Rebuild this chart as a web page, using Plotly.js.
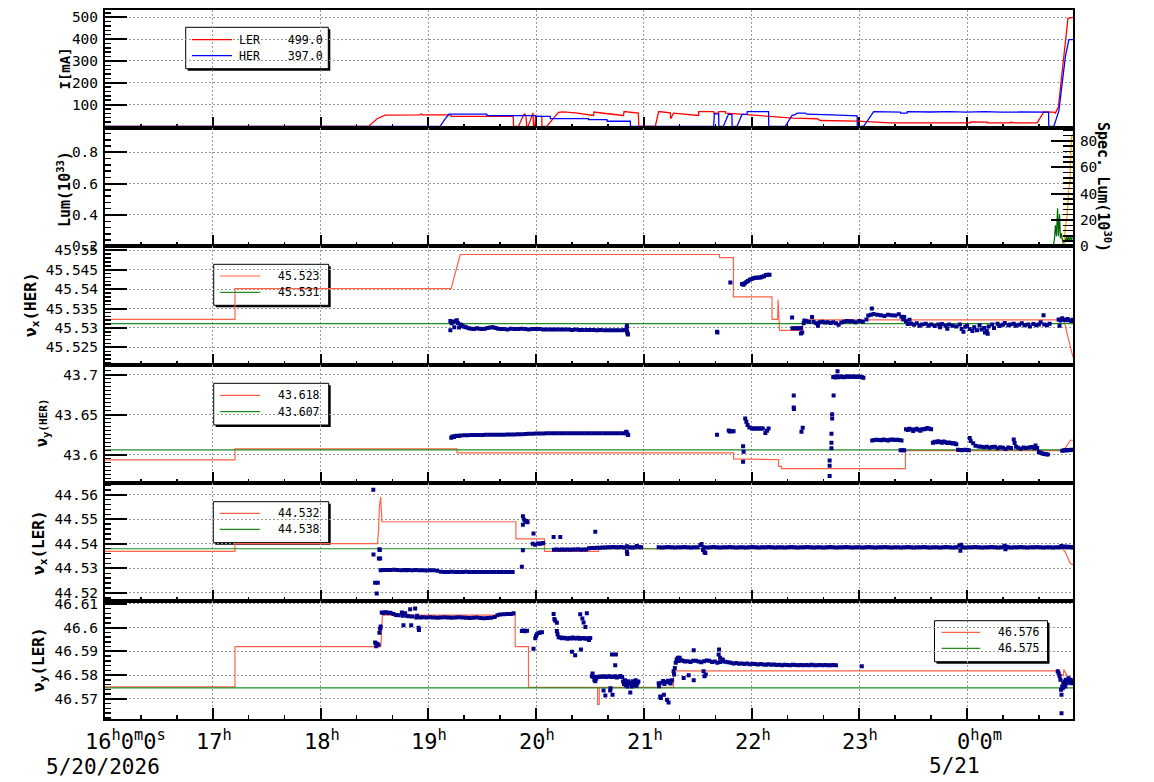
<!DOCTYPE html>
<html><head><meta charset="utf-8">
<script src="https://cdn.plot.ly/plotly-3.0.1.min.js"></script>
<style>body{margin:0;background:#fff}#chart{width:1154px;height:782px}</style>
</head><body><div id="chart"></div>
<script>
// ---- time base: minutes since 2026-05-20 16:00 ----
const BASE = Date.UTC(2026,4,20,16,0,0);
function T(m){ return new Date(BASE + m*60000).toISOString().slice(0,19).replace('T',' '); }
const xRange = [0, 539];
const xTickMin = [0,60,120,180,240,300,360,420,480];
const xTickText = ['16<sup>h</sup>0<sup>m</sup>0<sup>s</sup>','17<sup>h</sup>','18<sup>h</sup>','19<sup>h</sup>','20<sup>h</sup>','21<sup>h</sup>','22<sup>h</sup>','23<sup>h</sup>','0<sup>h</sup>0<sup>m</sup>'];
const dateLabels = ['5/20/2026','5/21'];

// ---- Panel 1: beam currents [mA] ----
const curLegend = ['LER    499.0','HER    397.0'];
const curLER = [[0,0],[146.7,0],[151.5,35],[156,52],[175.5,53],[176,57],[177,53],[192.2,53],[192.8,46],[227.3,46],[227.5,0],[230.2,0],[233,52],[233.7,57],[234.3,50],[234.9,0],[235.6,0],[237.7,46],[238.3,62],[238.6,0],[239.2,0],[239.8,46],[243.2,46],[243.3,0],[246,0],[250,40],[252.5,64],[255,67],[262,62],[272,50],[272.3,66],[280,58],[288.7,50],[289,68],[297,61],[297.2,0],[306.4,0],[308.3,68],[314.8,62],[315,35],[316.6,61],[330.5,50],[330.6,68],[338.9,68],[339,61],[341.7,61],[341.8,68],[345.4,68],[345.5,61],[353.8,56],[370.6,46],[383.4,38],[396.5,35],[398.3,27],[418.8,24],[437.5,16],[481.9,16],[482,21],[491.2,20],[491.3,16],[504.2,16],[504.3,19],[507,16],[519.1,16],[522.7,66],[528.3,65],[529.2,61],[530.9,90],[532.3,200],[533.7,310],[534.8,400],[535.8,470],[536.2,495],[539,499]];
const curHER = [[0,0],[186.6,0],[189,30],[191.5,56],[212.6,56],[212.7,49],[239.6,49],[239.7,46],[247.9,46],[248,35.5],[269.2,35.5],[269.3,31],[279.5,31],[279.6,23.6],[292.5,23.6],[292.6,0],[338.9,0],[339.3,57],[341.7,57],[341.8,0],[344.3,0],[347.1,55],[349.1,55],[349.2,0],[351.9,0],[354.7,55],[357.5,55],[357.6,68],[369.5,68],[369.6,0],[378.8,0],[382.6,51],[384.4,54],[385.4,61],[389.9,61],[390.9,56],[405,53],[418.8,48],[418.9,0],[422.4,0],[428,68],[435,65],[442.9,65],[443,61],[446.6,61],[446.7,68],[459.6,66],[470,68],[479.1,65],[490,68],[498.6,65],[510,66],[522.7,65],[524.6,68],[525.4,65],[525.5,0],[528.3,0],[531.1,70],[533,188],[534.8,322],[536.7,397],[539,397]];

// ---- Panel 2: luminosity ----
const lum = [[379.5,0.15],[380.5,0.22],[381,0.15],[528.1,0.206],[528.7,0.251],[529.2,0.334],[529.8,0.264],[530.4,0.443],[530.9,0.264],[531.5,0.404],[532,0.251],[532.6,0.283],[533.1,0.238],[533.7,0.213],[534.3,0.251],[534.8,0.226],[535.4,0.264],[535.9,0.238],[536.5,0.258],[537,0.232],[537.6,0.264],[538.2,0.238],[538.7,0.258]];
const specLum = [[533.5,0],[534.3,6],[534.6,12],[535.8,25],[536.7,45],[537.3,48],[537.6,65],[538.2,83],[538.7,85]];

// ---- Panel 3: nu_x(HER) ----
const nxhLegend = ['45.523','45.531'];
const nxhSet = [[0,45.5322],[72.4,45.5322],[72.4,45.5401],[192.8,45.5401],[193.5,45.5415],[194.3,45.543],[195,45.5445],[195.8,45.546],[196.6,45.5472],[197.3,45.548],[197.8,45.5489],[342.2,45.5489],[342.2,45.5481],[349.9,45.5481],[349.9,45.538],[371.4,45.538],[371.4,45.5322],[374.5,45.5322],[374.8,45.5373],[375.6,45.5294],[388.5,45.5294],[388.6,45.5321],[533.2,45.5321],[534.5,45.531],[536,45.528],[537.5,45.525],[539,45.5225]];
const nxhRef = [[0,45.5311],[539,45.5311]];
const nxhMeas = [[192.3,45.5318],[192.3,45.5294],[193,45.5312],[193.8,45.5316],[194.5,45.5302],[195.3,45.5318],[195.9,45.532],[196.5,45.5313],[197.2,45.5301],[198,45.5309],[199,45.5306],[200,45.5303],[201,45.5302],[202.5,45.5299],[204,45.5298],[205.5,45.5297],[207,45.5299],[208.5,45.5298],[210,45.5297],[211.5,45.5298],[213,45.53],[214.5,45.5301],[216,45.5302],[217.5,45.53],[219,45.5298],[220.5,45.5297],[222,45.5297],[224,45.5296],[226,45.5298],[228,45.5297],[230,45.5297],[232,45.5298],[234,45.5297],[236,45.5296],[238,45.5297],[240,45.5297],[242,45.5297],[244,45.5296],[246,45.5296],[248,45.5296],[250,45.5296],[252,45.5296],[254,45.5296],[256,45.5296],[258,45.5296],[260,45.5295],[262,45.5296],[264,45.5295],[266,45.5295],[268,45.5295],[270,45.5295],[272,45.5295],[274,45.5294],[276,45.5295],[278,45.5294],[280,45.5294],[282,45.5294],[284,45.5294],[286,45.5294],[288,45.5294],[289.5,45.5295],[290.5,45.53],[290.6,45.5306],[290.7,45.529],[291,45.5286],[291.2,45.5283],
[340.8,45.529],[341,45.5288],[348.2,45.5417],[354.7,45.5413],[355.5,45.5411],[356.3,45.5415],[357.2,45.5418],[358,45.5421],[359,45.5424],[360,45.5426],[361,45.5428],[362,45.5429],[363,45.5429],[364,45.543],[365,45.543],[366,45.5432],[367,45.5433],[368,45.5436],[369,45.5437],[370,45.5437],
[382.6,45.5327],[382.8,45.5299],[384,45.5299],[385.3,45.5299],[386.5,45.5299],[387.5,45.53],[387.5,45.5286],[388.2,45.5288],[389,45.5312],[389.5,45.5319],[390.5,45.5318],[392,45.5316],[393.7,45.5328],[394.5,45.5316],[396,45.5312],[397,45.5306],[398,45.5315],[399.5,45.5316],[401,45.5314],[402.5,45.5315],[404,45.5313],[405.5,45.5315],[407,45.5312],[408.5,45.5308],[410,45.5314],[411.5,45.5316],[413,45.5318],[414.5,45.5317],[416,45.5317],[418,45.5315],[420,45.5318],[422,45.5316],[424,45.5322],[425,45.5332],[426.5,45.5334],[427,45.535],[428,45.5336],[430,45.5334],[432,45.5333],[434,45.5331],[436,45.5334],[438,45.5333],[440,45.5332],[442,45.5335],[443.5,45.5329],[444.5,45.5322],[445,45.5328],[446,45.5317],[447,45.531],[448,45.5321],[449,45.5311],[450.5,45.5308],[452,45.5312],[453.5,45.5306],[455,45.5309],[457,45.5311],[458.5,45.5306],[460,45.5309],[462,45.5305],[464,45.5309],[465,45.5302],[466,45.531],[468,45.5306],[469,45.5298],[470,45.5309],[472,45.5306],[474,45.5304],[476,45.5309],[477,45.5297],[478,45.529],[479,45.5303],[480,45.5306],[481.5,45.5297],[483,45.5292],[484,45.5302],[485.5,45.5294],[487,45.5307],[488,45.5296],[489.5,45.53],[490,45.5288],[491,45.5293],[491.5,45.5285],[492,45.5304],[494,45.5309],[495,45.53],[497,45.5311],[498,45.5305],[500,45.5308],[501,45.5313],[503,45.5307],[504,45.5309],[506,45.5311],[507,45.5306],[509,45.5308],[510.5,45.5312],[512,45.5307],[514,45.5309],[515,45.5304],[517,45.531],[518.5,45.5307],[520,45.5309],[521,45.5315],[522.6,45.5333],[523,45.5309],[524.5,45.5307],[526,45.5311],[531,45.5322],[531.5,45.5306],[532,45.5319],[533,45.5325],[534,45.5321],[535,45.532],[536,45.5323],[537,45.532],[538,45.5318],[539,45.5321]];

// ---- Panel 4: nu_y(HER) ----
const nyhLegend = ['43.618','43.607'];
const nyhSet = [[0,43.5934],[72.4,43.5934],[72.4,43.6073],[196,43.6073],[196,43.6023],[350,43.6023],[350,43.5947],[371.4,43.5947],[371.4,43.5938],[375.1,43.5938],[375.1,43.5854],[376.6,43.5854],[376.6,43.5825],[445.7,43.5825],[445.7,43.6051],[533.5,43.6051],[535,43.609],[536.5,43.615],[537.5,43.618],[539,43.618]];
const nyhRef = [[0,43.606],[539,43.606]];
const nyhMeas = [[192.8,43.621],[193.5,43.6228],[194.3,43.622],[195,43.6233],[196,43.6236],[197,43.6232],[198,43.6238],[200,43.6241],[202,43.6243],[204,43.6244],[206,43.6245],[208,43.6246],[210,43.6246],[212,43.6247],[214,43.6248],[216,43.6248],[218,43.6249],[220,43.625],[222,43.625],[224,43.6251],[226,43.6252],[228,43.6253],[230,43.6254],[232,43.6256],[234,43.6258],[236,43.626],[238,43.6262],[240,43.6263],[242,43.6264],[244,43.6265],[246,43.6266],[248,43.6266],[250,43.6266],[252,43.6266],[254,43.6266],[256,43.6266],[258,43.6266],[260,43.6266],[262,43.6266],[264,43.6266],[266,43.6266],[268,43.6266],[270,43.6266],[272,43.6266],[274,43.6266],[276,43.6266],[278,43.6266],[280,43.6266],[282,43.6266],[284,43.6266],[286,43.6266],[288,43.6266],[290,43.6266],[290.2,43.6287],[290.5,43.6278],[291,43.6253],[291.3,43.6244],
[340.8,43.625],[347.3,43.6302],[347.9,43.6289],[349.1,43.6293],[350,43.6293],[355.3,43.6106],[355.6,43.6035],[355.3,43.591],[356.5,43.6452],[357.1,43.6411],[357.8,43.637],[358.8,43.634],[360.3,43.6328],[361.3,43.6328],[362.3,43.6328],[363.3,43.6328],[364.3,43.6328],[365.3,43.6328],[366.3,43.6328],[367.7,43.627],[368.6,43.63],[369.5,43.6328],
[383.5,43.6738],[383.5,43.659],[383.6,43.657],[387.8,43.6287],[388.5,43.6337],
[407.9,43.7043],[405.7,43.6738],[404.9,43.6505],[404.9,43.6452],[404.5,43.6262],[404.5,43.615],[404.5,43.608],[403.5,43.5926],[403.5,43.586],[403.5,43.5733],
[405.5,43.697],[406.5,43.6965],[407.5,43.698],[408.5,43.6968],[409.5,43.6975],[410.5,43.6972],[411.5,43.6966],[412.5,43.6973],[413.5,43.6978],[414.5,43.697],[415.5,43.6975],[416.5,43.6974],[417.5,43.6977],[418.5,43.697],[419.5,43.6975],[420.5,43.6972],[421.5,43.6966],[422.3,43.6962],
[427.2,43.6178],[428.5,43.6182],[429.7,43.6186],[431,43.6184],[432.2,43.6181],[433.5,43.619],[434.7,43.6183],[436,43.6178],[437.2,43.6185],[438.5,43.6188],[439.7,43.6182],[441,43.6186],[442.2,43.6184],[443.5,43.6177],[443,43.6055],[444,43.6055],[445,43.6055],
[446,43.6318],[447,43.6307],[448,43.6322],[449,43.6313],[450,43.6296],[451,43.6315],[452,43.6323],[453,43.6311],[454,43.6298],[455,43.6318],[456,43.6316],[457,43.6322],[458,43.6332],[459,43.6325],[460,43.6317],
[461,43.6148],[462,43.6162],[463,43.6155],[464,43.6168],[465,43.6158],[466,43.615],[467,43.6163],[468,43.6155],[469,43.6147],[470,43.6152],[471,43.6144],[472,43.6138],[473,43.6142],[474,43.613],
[475,43.6062],[476,43.6058],[477,43.6055],[478,43.6058],[479,43.6062],[480,43.6058],[481,43.6055],
[481.5,43.6209],[482,43.617],[483.4,43.6143],[484.7,43.611],[486.5,43.6102],[488,43.6098],[489.5,43.6092],[491,43.6098],[492.5,43.6086],[494,43.6095],[495.5,43.6098],[497,43.6079],[498.5,43.6092],[500,43.6085],[501.5,43.6072],[503,43.6088],[504.5,43.6082],
[506,43.6188],[506.5,43.6146],[507.3,43.6098],[508.5,43.6085],[510,43.6075],[511.5,43.6088],[513,43.6082],[514.5,43.609],[516,43.6095],[517.5,43.608],[518.1,43.6115],[519,43.6084],
[520,43.6033],[521,43.6025],[522,43.6015],[523,43.6008],[524,43.6004],[525,43.6002],
[533,43.6048],[534,43.6055],[535,43.6052],[536,43.6058],[537,43.6055],[538,43.606],[539,43.6058]];

// ---- Panel 5: nu_x(LER) ----
const nxlLegend = ['44.532','44.538'];
const nxlSet = [[0,44.5369],[72.4,44.5369],[72.4,44.5401],[151.7,44.5401],[152.3,44.5449],[152.8,44.555],[153.5,44.5591],[154.2,44.549],[228.8,44.549],[228.8,44.542],[244.7,44.542],[244.7,44.5369],[274.8,44.5369],[274.8,44.538],[533,44.538],[534.5,44.537],[536,44.5345],[537.5,44.532],[539,44.5315]];
const nxlRef = [[0,44.538],[539,44.538]];
const nxlMeas = [[149.4,44.562],[149.5,44.5357],[150.4,44.5242],[151.3,44.5198],[151.9,44.5242],[152.5,44.534],[152.8,44.5378],[153.2,44.534],[153,44.5375],
[153.5,44.5293],[155,44.5294],[157,44.5294],[159,44.5294],[161,44.5295],[163,44.5294],[165,44.5293],[167,44.5294],[168,44.5292],[169,44.5294],[171,44.5293],[173,44.5294],[175,44.5292],[177,44.5293],[179,44.5291],[181,44.5292],[183,44.5292],[185,44.529],[187,44.5286],[189,44.5285],[191,44.5285],[193,44.5286],[195,44.5285],[197,44.5285],[199,44.5285],[201,44.5286],[203,44.5285],[205,44.5285],[207,44.5285],[209,44.5285],[211,44.5285],[213,44.5285],[215,44.5285],[217,44.5285],[219,44.5285],[221,44.5285],[223,44.5285],[225,44.5285],[227,44.5285],
[232.1,44.5307],[232.7,44.5374],[232.7,44.5512],[232.7,44.5478],[233.4,44.5498],[234.1,44.549],[234.8,44.5493],[235.3,44.5488],[238.2,44.54],[238.6,44.5442],[239.5,44.5396],[241,44.5401],[242,44.54],[243,44.5401],[244,44.5403],[249.8,44.5428],[253.5,44.5428],[250,44.5376],[251.5,44.5377],[253,44.5376],[254.5,44.5377],[256,44.5376],[257.5,44.5377],[259,44.5376],[260.5,44.5377],[262,44.5377],[263.5,44.5378],[265,44.5376],[266.5,44.5377],[268,44.5377],[269.5,44.5382],[271,44.5383],[272.5,44.5383],[273,44.5449],[274,44.5384],[275.5,44.5384],[277,44.5385],[278.5,44.5385],[280,44.5386],[281.5,44.5386],[283,44.5387],[284.5,44.5386],[286,44.5386],[287.5,44.5387],[289,44.5385],[290.6,44.539],[290.6,44.5369],[290.8,44.5359],[292,44.5386],[293.5,44.5385],[295,44.5386],[296.2,44.5391],[297.5,44.5387],[298.5,44.5386],
[308.3,44.5386],[310.1,44.5385],[311.9,44.5386],[313.7,44.5387],[315.5,44.5386],[317.3,44.5385],[319.1,44.5386],[320.9,44.5386],[322.7,44.5387],[324.5,44.5386],[326.3,44.5385],[328.1,44.5386],[329.9,44.5386],[331.5,44.5394],[332.2,44.5399],[333,44.5375],[333.8,44.5366],[334.3,44.5363],[333.5,44.5386],[335.3,44.5385],[337.1,44.5386],[338.9,44.5387],[340.7,44.5386],[342.5,44.5385],[344.3,44.5386],[346.1,44.5386],[347.9,44.5387],[349.7,44.5386],[351.5,44.5385],[353.3,44.5386],[355.1,44.5386],[356.9,44.5385],[358.7,44.5386],[360.5,44.5387],[362.3,44.5386],[364.1,44.5385],[365.9,44.5386],[367.7,44.5386],[369.5,44.5387],[371.3,44.5386],[373.1,44.5385],[374.9,44.5386],[376.7,44.5386],[378.5,44.5385],[380.3,44.5386],[382.1,44.5387],[383.9,44.5386],[385.7,44.5385],[387.5,44.5386],[389.3,44.5386],[391.1,44.5387],[392.9,44.5386],[394.7,44.5385],[396.5,44.5386],[398.3,44.5386],[400.1,44.5385],[401.9,44.5386],[403.7,44.5387],[405.5,44.5386],[407.3,44.5385],[409.1,44.5386],[410.9,44.5386],[412.7,44.5387],[414.5,44.5386],[416.3,44.5385],[418.1,44.5386],[419.9,44.5386],[421.7,44.5385],[423.5,44.5386],[425.3,44.5387],[427.1,44.5386],[428.9,44.5385],[430.7,44.5386],[432.5,44.5386],[434.3,44.5387],[436.1,44.5386],[437.9,44.5385],[439.7,44.5386],[441.5,44.5386],[443.3,44.5385],[445.1,44.5386],[446.9,44.5387],[448.7,44.5386],[450.5,44.5385],[452.3,44.5386],[454.1,44.5386],[455.9,44.5387],[457.7,44.5386],[459.5,44.5385],[461.3,44.5386],[463.1,44.5386],[464.9,44.5385],[466.7,44.5386],[468.5,44.5387],[470.3,44.5386],[472.1,44.5385],[473.9,44.5386],[475.7,44.5392],[476.3,44.5372],[476.8,44.5396],[477.5,44.5386],[479.3,44.5385],[481.1,44.5386],[482.9,44.5386],[484.7,44.5387],[486.5,44.5386],[488.3,44.5385],[490.1,44.5386],[491.9,44.5386],[493.7,44.5387],[495.5,44.5386],[497.3,44.5385],[499.1,44.5386],[500.9,44.5392],[501.4,44.5378],[502,44.5388],[502.7,44.5386],[504.5,44.5385],[506.3,44.5386],[508.1,44.5386],[509.9,44.5387],[511.7,44.5386],[513.5,44.5385],[515.3,44.5386],[517.1,44.5386],[518.9,44.5387],[520.7,44.5386],[522.5,44.5385],[524.3,44.5386],[526.1,44.5386],[527.9,44.5385],[529.7,44.5386],[531.5,44.5386],[532.5,44.5391],[533.5,44.5387],[534.5,44.5389],[535.5,44.5386],[536.5,44.5388],[537.5,44.5386],[538.5,44.5387],[539,44.5385]];

// ---- Panel 6: nu_y(LER) ----
const nylLegend = ['46.576','46.575'];
const nylSet = [[0,46.575],[72.4,46.575],[72.4,46.592],[153.6,46.592],[154.5,46.6053],[228.4,46.6053],[228.4,46.592],[235.8,46.592],[235.8,46.5748],[274.3,46.5748],[274.3,46.5677],[275.2,46.5677],[275.2,46.5748],[316.6,46.5748],[316.6,46.5818],[531.2,46.5818],[532,46.5805],[533.1,46.5797],[533.6,46.5797],[533.9,46.5823],[535.3,46.5803],[537.1,46.5789],[537.9,46.5768],[539,46.5768]];
const nylRef = [[0,46.5746],[539,46.5746]];
const nylMeas = [[150.4,46.5937],[151,46.5922],[151.5,46.5932],[152.3,46.5928],[152.8,46.5979],[153.2,46.5995],[153.5,46.6005],[154.1,46.6064],[155,46.6062],[156,46.6065],[157,46.6064],[158,46.6062],[159,46.6063],[160.6,46.6057],[162,46.6053],[163.5,46.6052],[165.3,46.6064],[165.8,46.605],[166.2,46.601],[167.1,46.6061],[168,46.605],[169,46.6048],[169.9,46.6078],[170.5,46.601],[171,46.6047],[172.7,46.6081],[173.3,46.6043],[173.8,46.605],[174.6,46.6],[174.8,46.599],[175.5,46.6043],[177,46.6044],[179,46.6043],[181,46.6044],[183,46.6043],[185,46.6042],[187,46.6043],[189,46.6044],[191,46.6043],[193,46.6042],[195,46.6043],[197,46.6044],[199,46.6043],[201,46.6042],[203,46.6041],[205,46.6042],[207,46.6043],[209,46.6041],[211,46.604],[213,46.6041],[215,46.6042],[217,46.6045],[218.5,46.6052],[220,46.6055],[222,46.6056],[224,46.6057],[226,46.6058],[227.5,46.6061],
[232.1,46.5986],[233,46.5988],[234,46.5985],[235,46.5987],[238.6,46.5911],[239.6,46.5955],[240,46.5965],[240.5,46.5972],[241.4,46.5977],[242.3,46.598],[243.3,46.5981],
[249.8,46.6057],[250.2,46.6036],[250.7,46.6029],[251.6,46.6021],[251.6,46.5986],[252,46.5972],[252.6,46.596],[253.5,46.5958],[254.5,46.5955],[255.5,46.5957],[256.5,46.5955],[257.5,46.5953],[258.5,46.5956],[259.5,46.5954],[260.5,46.5958],[261.5,46.5955],[262.5,46.5954],[263.5,46.5957],[264.5,46.5953],[265.5,46.5955],[266.5,46.5956],[267.5,46.5953],[268.5,46.5955],[269.5,46.5948],[270.2,46.5956],
[260,46.5898],[261.8,46.5884],[265,46.5908],[264.6,46.6056],[265.8,46.6039],[266.5,46.6022],[267.5,46.6003],[268.3,46.6061],
[271.1,46.5795],[271.5,46.5807],[272,46.5792],[272.5,46.5779],[273,46.5774],[273.5,46.5785],[274,46.5793],[275,46.5792],[276,46.5794],[277,46.5793],[278,46.5795],[279,46.5792],[280,46.5794],[281,46.5795],[282,46.5792],[283,46.5793],[284,46.5795],[285,46.579],[286,46.5793],[287,46.5796],[288,46.5792],
[277.6,46.5735],[278.6,46.5714],[281.3,46.5735],[281.5,46.5745],[282.3,46.5887],[284.1,46.5842],[284.5,46.5887],[282.6,46.5717],
[288.5,46.5773],[289,46.5762],[289.5,46.5778],[290,46.5757],[290.5,46.5767],[291,46.5752],[291.5,46.5774],[292,46.5763],[292.5,46.5727],[293,46.5768],[293.5,46.5752],[294,46.5774],[294.5,46.5757],[295,46.5764],[295.5,46.5778],[296,46.5755],[296.5,46.5767],[297,46.5773],
[308.3,46.5766],[308.5,46.5753],[309.2,46.571],[309.5,46.5703],[310,46.5768],[310.8,46.5775],[311.5,46.5763],[311.2,46.5717],[312.2,46.5771],[312.9,46.5696],[313.8,46.5684],[313.5,46.5776],[314.3,46.5768],[315,46.5765],[315.7,46.5778],
[316.6,46.5816],[316.9,46.5802],[317.3,46.583],[317.8,46.5852],[318.3,46.5866],[319,46.5873],[319.4,46.5859],[320,46.5873],[321,46.5863],[322.2,46.5859],
[323,46.5857],[324.5,46.5858],[326,46.5855],[327.5,46.586],[329,46.5861],[330.5,46.5857],[332,46.5854],[333.5,46.5858],[335,46.5862],[336.5,46.586],[338,46.5855],[339.5,46.5857],[341,46.5852],[342.5,46.5855],[344,46.5858],[345.5,46.5856],[347,46.5854],[348.5,46.5852],[350,46.5849],[351.5,46.5851],[353,46.5848],[354.5,46.5849],[356,46.5847],[357.5,46.5849],[359,46.5846],[360.5,46.5848],[362,46.5847],[363.5,46.5845],[365,46.5847],[366.5,46.5845],[368,46.5844],[369.5,46.5846],[371,46.5844],[372.5,46.5845],[374,46.5843],[375.5,46.5844],[377,46.5842],[378.5,46.5844],[380,46.5843],[381.5,46.5842],[383,46.5844],[384.5,46.5843],[386,46.5842],[387.5,46.5843],[389,46.5841],[390.5,46.5843],[392,46.5842],[393.5,46.5844],[395,46.5842],[396.5,46.5841],[398,46.5843],[399.5,46.5842],[401,46.5843],[402.5,46.5841],[404,46.5842],[405.5,46.5843],[407,46.5842],
[322.2,46.5788],[325,46.5799],[327.8,46.5778],[327.8,46.5905],[333.3,46.5816],[333.8,46.5795],[334.5,46.5802],[341.7,46.5887],[341.9,46.5908],[342.5,46.5873],[344,46.5866],
[421.4,46.5837],
[530.5,46.5816],[531,46.5808],[531.5,46.5795],[532,46.578],[532.3,46.5738],[532.6,46.5717],[532.6,46.5639],[533,46.5752],[533.3,46.5745],[533.6,46.5766],[534,46.5759],[534.3,46.5773],[534.7,46.5752],[535,46.578],[535.5,46.5766],[536,46.5773],[536.5,46.5787],[537,46.5773],[537.5,46.578],[538,46.5766],[538.5,46.5777],[539,46.5773]];

// ---- y tick labels ----
const yTicks = [
  {vals:[100,200,300,400,500], text:['100','200','300','400','500']},
  {vals:[0.2,0.4,0.6,0.8], text:['0.2','0.4','0.6','0.8']},
  {vals:[45.525,45.53,45.535,45.54,45.545,45.55], text:['45.525','45.53','45.535','45.54','45.545','45.55']},
  {vals:[43.6,43.65,43.7], text:['43.6','43.65','43.7']},
  {vals:[44.52,44.53,44.54,44.55,44.56], text:['44.52','44.53','44.54','44.55','44.56']},
  {vals:[46.57,46.58,46.59,46.6,46.61], text:['46.57','46.58','46.59','46.6','46.61']}
];
const specTicks = {vals:[0,20,40,60,80], text:['0','20','40','60','80']};

// ================= build =================
const xs = a => a.map(p => T(p[0]));
const ys = a => a.map(p => p[1]);
const TOMATO = '#ff6347', GREEN = '#228b22', NAVY = '#00008b';
const traces = [];
function line(a, xa, ya, color, w){ traces.push({x:xs(a), y:ys(a), xaxis:xa, yaxis:ya, mode:'lines', line:{color:color, width:w||1.2}, hoverinfo:'skip'}); }
function pts(a, xa, ya){ traces.push({x:xs(a), y:ys(a), xaxis:xa, yaxis:ya, mode:'markers', marker:{symbol:'square', size:4, color:NAVY, line:{width:0}}, hoverinfo:'skip'}); }

line(curLER,'x','y','#ff0000',1.3);
line(curHER,'x','y','#0000ff',1.3);
line(lum,'x2','y2','#006400',1.2);
line(specLum,'x2','y7','#ffa500',1.3);
line(nxhSet,'x3','y3',TOMATO); line(nxhRef,'x3','y3',GREEN); pts(nxhMeas,'x3','y3');
line(nyhSet,'x4','y4',TOMATO); line(nyhRef,'x4','y4',GREEN); pts(nyhMeas,'x4','y4');
line(nxlSet,'x5','y5',TOMATO); line(nxlRef,'x5','y5',GREEN); pts(nxlMeas,'x5','y5');
line(nylSet,'x6','y6',TOMATO); line(nylRef,'x6','y6',GREEN); pts(nylMeas,'x6','y6');

const MONO = 'DejaVu Sans Mono';
const ranges = [[-8,533],[0.2,0.954],[45.5206,45.551],[43.565,43.7126],[44.5168,44.5649],[46.5615,46.6113]];
const minors = [{tick0:0,dtick:20},{tick0:0.2,dtick:0.04},{tick0:45.52,dtick:0.001},{tick0:43.55,dtick:0.005},{tick0:44.51,dtick:0.002},{tick0:46.56,dtick:0.002}];
const layout = {
  width:1154, height:782, margin:{l:105,r:81,t:10,b:63},
  paper_bgcolor:'#fff', plot_bgcolor:'#fff', showlegend:false,
  font:{family:MONO, size:14, color:'#000'},
  shapes:[], annotations:[]
};
for(let i=0;i<6;i++){
  const n = i===0?'':String(i+1);
  const top = 1 - i/6, bot = 1 - (i+1)/6;
  layout['xaxis'+n] = {
    type:'date', range:[T(xRange[0]),T(xRange[1])], anchor:'y'+n, matches: i===0?undefined:'x',
    showticklabels:false, tick0:T(0), dtick:3600000,
    ticks:'inside', ticklen:11, tickwidth:2, tickcolor:'#000',
    minor:{ticks:'inside', ticklen:4, tickwidth:1.5, tickcolor:'#000', dtick:1200000, tick0:T(0), showgrid:false},
    showgrid:true, gridcolor:'#9a9a9a', gridwidth:1, griddash:'2px,2px',
    showline:true, mirror:true, linecolor:'#000', linewidth:2, zeroline:false,
    layer: i===0?'below traces':'above traces'
  };
  layout['yaxis'+n] = {
    domain:[bot, top], range:ranges[i], anchor:'x'+n,
    tickmode:'array', tickvals:yTicks[i].vals, ticktext:yTicks[i].text,
    ticks:'inside', ticklen:22, tickwidth:2, tickcolor:'#000', ticklabelstandoff:2,
    minor:Object.assign({ticks:'inside', ticklen:6, tickwidth:1.5, tickcolor:'#000', showgrid:false}, minors[i]),
    tickfont:{family:MONO, size:14.5, color:'#000'},
    showgrid:true, gridcolor:'#9a9a9a', gridwidth:1, griddash:'2px,2px',
    showline:true, mirror:true, linecolor:'#000', linewidth:2, zeroline:false,
    layer: i===0?'below traces':'above traces'
  };
}
layout.yaxis7 = {
  overlaying:'y2', side:'right', anchor:'x2', range:[0,89.7],
  tickmode:'array', tickvals:specTicks.vals, ticktext:specTicks.text,
  ticks:'inside', ticklen:22, tickwidth:2, tickcolor:'#000', ticklabelstandoff:2,
  minor:{ticks:'inside', ticklen:10, tickwidth:1.5, tickcolor:'#000', tick0:0, dtick:4, showgrid:false},
  tickfont:{family:MONO, size:14.5, color:'#000'},
  showgrid:false, showline:true, linecolor:'#000', linewidth:2, zeroline:false
};

// pixel -> paper helpers (plot area: x 105..1073, y 10..719)
const P = px => (px-105)/968;
const Q = py => (719-py)/709;

function legendBox(x0,y0,x1,y1){
  layout.shapes.push({type:'rect', xref:'paper', yref:'paper', x0:P(x0+2), x1:P(x1+2), y0:Q(y1+2), y1:Q(y0+2), fillcolor:'#000', line:{width:0}, layer:'between'});
  layout.shapes.push({type:'rect', xref:'paper', yref:'paper', x0:P(x0), x1:P(x1), y0:Q(y1), y1:Q(y0), fillcolor:'#fff', line:{color:'#000', width:1}, layer:'between'});
}
function legendLine(x0,x1,y,color,w){
  layout.shapes.push({type:'line', xref:'paper', yref:'paper', x0:P(x0), x1:P(x1), y0:Q(y), y1:Q(y), line:{color:color, width:w||1.2}, layer:'above'});
}
function text(t, px, py, opt){
  layout.annotations.push(Object.assign({text:t, xref:'paper', yref:'paper', x:P(px), y:Q(py), showarrow:false, xanchor:'center', yanchor:'middle', font:{family:MONO, size:12, color:'#000'}}, opt||{}));
}

// Panel 1 legend
legendBox(185.7,27.3,328.3,68.7);
legendLine(192,232,39.7,'#ff0000',1.3); legendLine(192,232,55.7,'#0000ff',1.3);
text(curLegend[0],237,39.7,{xanchor:'left', font:{family:MONO,size:11.6,color:'#000'}});
text(curLegend[1],237,55.7,{xanchor:'left', font:{family:MONO,size:11.6,color:'#000'}});
// tune legends
const tuneLeg = [[nxhLegend,213.7,264.3,328.7,305.3,276,292.3],[nyhLegend,213.7,383.3,328.7,425,395.3,411.7],[nxlLegend,213.3,501.7,328.7,542.7,513.3,529.3]];
tuneLeg.forEach(g=>{
  legendBox(g[1],g[2],g[3],g[4]);
  legendLine(g[1]+6.5,g[1]+46.5,g[5],TOMATO); legendLine(g[1]+6.5,g[1]+46.5,g[6],GREEN);
  text(g[0][0],321.5,g[5],{xanchor:'right', font:{family:MONO,size:11.5,color:'#000'}});
  text(g[0][1],321.5,g[6],{xanchor:'right', font:{family:MONO,size:11.5,color:'#000'}});
});
legendBox(934.5,620.7,1047.5,661.7);
legendLine(941.7,980.2,632.3,TOMATO); legendLine(941.7,980.2,648.3,GREEN);
text(nylLegend[0],1041.8,632.3,{xanchor:'right', font:{family:MONO,size:11.5,color:'#000'}});
text(nylLegend[1],1041.8,648.3,{xanchor:'right', font:{family:MONO,size:11.5,color:'#000'}});

// axis titles
const B = s => ({family:MONO, size:s, color:'#000', weight:'bold'});
text('<b>I[mA]</b>',64.5,69,{textangle:-90, font:B(14)});
text('<b>Lum(10<sup>33</sup>)</b>',64,189,{textangle:-90, font:B(15)});
text('<b>Spec. Lum(10<sup>30</sup>)</b>',1104,187,{textangle:90, font:B(15)});
text('<b>ν<sub>x</sub>(HER)</b>',31,305,{textangle:-90, font:B(16)});
text('<b>ν<sub>y</sub><span style="font-size:11px">(HER)</span></b>',42,423,{textangle:-90, font:B(15)});
text('<b>ν<sub>x</sub>(LER)</b>',39,543,{textangle:-90, font:B(16)});
text('<b>ν<sub>y</sub>(LER)</b>',39,660,{textangle:-90, font:B(16)});

// x tick labels
xTickMin.forEach((m,i)=>{
  layout.annotations.push({text:xTickText[i], xref:'x6', yref:'paper', x:T(m), y:Q(724), xanchor:'center', yanchor:'top',
    xshift: i===0?20:(i===8?12:1), showarrow:false, font:{family:MONO, size:22, color:'#000'}});
});
text(dateLabels[0],103,767,{font:{family:MONO,size:21,color:'#000'}});
text(dateLabels[1],954,766,{font:{family:MONO,size:21,color:'#000'}});

Plotly.newPlot('chart', traces, layout, {displayModeBar:false, staticPlot:true});
</script></body></html>
